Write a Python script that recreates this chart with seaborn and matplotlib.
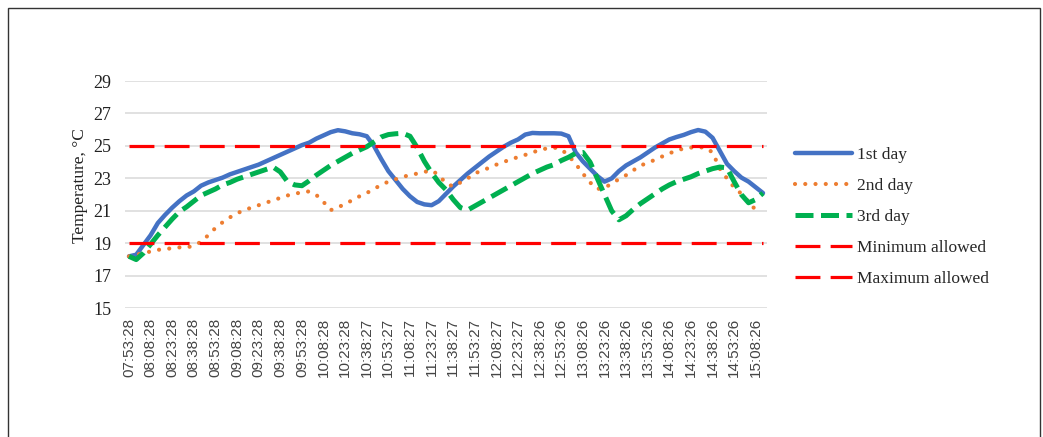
import numpy as np
import pandas as pd
import matplotlib
matplotlib.use("Agg")
import matplotlib.pyplot as plt
import seaborn as sns
from matplotlib.patches import Rectangle

# tick labels (one label every 3rd reading, readings every 5 min)
time_labels = ["07:53:28", "08:08:28", "08:23:28", "08:38:28", "08:53:28",
               "09:08:28", "09:23:28", "09:38:28", "09:53:28", "10:08:28",
               "10:23:28", "10:38:27", "10:53:27", "11:08:27", "11:23:27",
               "11:38:27", "11:53:27", "12:08:27", "12:23:27", "12:38:26",
               "12:53:26", "13:08:26", "13:23:26", "13:38:26", "13:53:26",
               "14:08:26", "14:23:26", "14:38:26", "14:53:26", "15:08:26"]

day1 = [18.2, 18.3, 18.9, 19.5, 20.25, 20.75, 21.2, 21.6, 21.95, 22.2,
        22.55, 22.75, 22.9, 23.05, 23.25, 23.4, 23.55, 23.7, 23.85, 24.05,
        24.25, 24.45, 24.65, 24.85, 25.05, 25.2, 25.45, 25.65, 25.85, 25.97,
        25.9, 25.78, 25.72, 25.6, 25.0, 24.2, 23.45, 22.9, 22.35, 21.9,
        21.55, 21.4, 21.35, 21.6, 22.05, 22.5, 22.9, 23.3, 23.65, 24.0,
        24.35, 24.65, 24.95, 25.2, 25.4, 25.7, 25.8, 25.78, 25.78, 25.78,
        25.76, 25.6, 24.6, 24.05, 23.6, 23.15, 22.8, 23.0, 23.45, 23.8,
        24.05, 24.3, 24.6, 24.9, 25.15, 25.4, 25.55, 25.68, 25.85, 25.98,
        25.88, 25.5, 24.7, 23.9, 23.45, 23.05, 22.8, 22.45, 22.1]

day2 = [18.2, 18.3, 18.4, 18.5, 18.6, 18.65, 18.7, 18.75, 18.75, 18.85,
        19.1, 19.5, 19.95, 20.3, 20.6, 20.85, 21.05, 21.2, 21.35, 21.5,
        21.65, 21.8, 21.95, 22.05, 22.15, 22.2, 21.98, 21.55, 21.05, 21.2,
        21.45, 21.65, 21.9, 22.1, 22.35, 22.6, 22.8, 22.95, 23.1, 23.2,
        23.3, 23.4, 23.5, 23.2, 22.7, 22.5, 22.75, 23.0, 23.3, 23.5,
        23.65, 23.85, 24.0, 24.2, 24.3, 24.45, 24.6, 24.75, 24.85, 24.9,
        24.8, 24.4, 23.9, 23.3, 22.75, 22.35, 22.4, 22.7, 22.95, 23.2,
        23.5, 23.8, 23.95, 24.15, 24.35, 24.55, 24.7, 24.85, 24.9, 24.92,
        24.9, 24.6, 23.6, 23.0, 22.45, 22.05, 21.55, 21.05, np.nan]

day3 = [18.2, 18.0, 18.4, 18.95, 19.5, 20.0, 20.5, 20.95, 21.25, 21.6,
        21.95, 22.15, 22.35, 22.6, 22.75, 22.95, 23.1, 23.25, 23.4, 23.55,
        23.7, 23.4, 22.8, 22.6, 22.55, 22.85, 23.2, 23.5, 23.8, 24.05,
        24.3, 24.55, 24.75, 24.95, 25.25, 25.55, 25.7, 25.75, 25.78, 25.6,
        24.9, 24.05, 23.35, 22.75, 22.3, 21.7, 21.2, 21.05, 21.3, 21.55,
        21.8, 22.05, 22.3, 22.55, 22.8, 23.05, 23.3, 23.5, 23.7, 23.85,
        24.1, 24.3, 24.55, 24.6, 24.0, 23.0, 22.0, 21.0, 20.45, 20.7,
        21.1, 21.45, 21.75, 22.05, 22.35, 22.6, 22.8, 22.95, 23.1, 23.3,
        23.45, 23.6, 23.7, 23.65, 22.8, 22.0, 21.5, 21.7, 22.1]

min_allowed = 19
max_allowed = 25
y_ticks = [15, 17, 19, 21, 23, 25, 27, 29]

n = len(day1)
idx = np.arange(n)
df = pd.DataFrame({"idx": idx, "day1": day1, "day2": day2, "day3": day3,
                   "min": np.full(n, min_allowed), "max": np.full(n, max_allowed)})

sns.set_style("white")
plt.rcParams['font.family'] = ['Liberation Serif', 'DejaVu Serif']

W, H = 1043, 437
fig = plt.figure(figsize=(W / 100, H / 100), dpi=100)
ax = fig.add_axes([125.4 / W, 1 - 308.3 / H, 641.2 / W, 227.3 / H])

sns.lineplot(data=df, x="idx", y="day1", ax=ax, color="#4472C4", lw=3.2,
             label="1st day", estimator=None, solid_capstyle="round")
sns.lineplot(data=df, x="idx", y="day2", ax=ax, color="#ED7D31", lw=3.0,
             label="2nd day", estimator=None,
             linestyle=(0, (0.01, 2.45)), dash_capstyle="round")
sns.lineplot(data=df, x="idx", y="day3", ax=ax, color="#00B050", lw=3.6,
             label="3rd day", estimator=None, linestyle=(0, (3.6, 1.5)))
sns.lineplot(data=df, x="idx", y="min", ax=ax, color="#FF0000", lw=2.3,
             label="Minimum allowed", estimator=None, linestyle=(0, (7.8, 3.2)))
sns.lineplot(data=df, x="idx", y="max", ax=ax, color="#FF0000", lw=2.3,
             label="Maximum allowed", estimator=None, linestyle=(0, (7.8, 3.2)))

ax.set_xlim(-0.5, n - 0.5)
ax.set_ylim(15, 29)
ax.set_yticks(y_ticks)
ax.set_xticks(idx[::3])
ax.set_xticklabels(time_labels, rotation=90, fontsize=11,
                   family=['Liberation Sans', 'DejaVu Sans'], color="#444444")
ax.tick_params(axis="x", length=0, pad=7)
ax.tick_params(axis="y", length=0, pad=10, labelsize=13, labelcolor="#222222")
ax.yaxis.grid(True, color="#D9D9D9", lw=1.1)
ax.xaxis.grid(False)
ax.set_axisbelow(True)
for s in ax.spines.values():
    s.set_visible(False)

ax.set_xlabel("")
ax.set_ylabel("Temperature, °C", fontsize=12.5, color="#222222")
ax.yaxis.set_label_coords(-0.058, 0.54)

handles, labels = ax.get_legend_handles_labels()
ax.legend(handles, labels, loc="center left",
          bbox_to_anchor=(795 / W, 1 - 217 / H), bbox_transform=fig.transFigure,
          frameon=False, fontsize=12.5, handlelength=3.3, handletextpad=0.25,
          labelspacing=0.85, borderpad=0, borderaxespad=0)

# thin frame round the figure
fig.patches.append(Rectangle((8 / W, -0.1), 1032 / W, 1 - 8 / H + 0.1,
                             transform=fig.transFigure, fill=False,
                             edgecolor="#333333", lw=1.0))

fig.savefig("out.png", dpi=100)
